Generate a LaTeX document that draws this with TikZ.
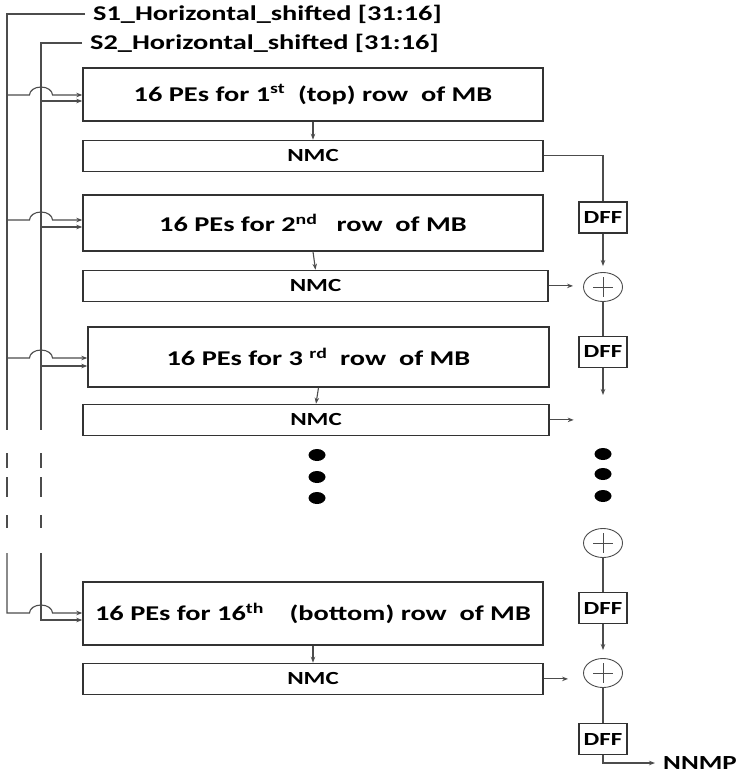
\documentclass[tikz,border=0pt]{standalone}
\usepackage{fontspec}
\setmainfont{Carlito}[FakeStretch=1.35]
\usetikzlibrary{shapes.geometric, arrows.meta, positioning, calc}

\begin{document}
\begin{tikzpicture}[x=1pt, y=-1pt, font=\bfseries,
          pebox/.style={rectangle, draw=black!80, line width=1.4pt, minimum width=460pt, minimum height=55pt, inner sep=0pt, font=\bfseries\fontsize{21}{24}\selectfont},
          nmcbox/.style={rectangle, draw=black!80, line width=1.4pt, minimum width=460pt, minimum height=31pt, inner sep=0pt, font=\bfseries\fontsize{18.5}{20}\selectfont},
          dffbox/.style={rectangle, draw=black!80, line width=1.4pt, minimum width=48pt, minimum height=31pt, inner sep=0pt, font=\bfseries\fontsize{18.5}{20}\selectfont},
          adder/.style={ellipse, draw=black!70, line width=0.9pt, minimum width=39pt, minimum height=29pt, inner sep=0pt,
            path picture={\draw[line width=0.9pt, black!70] ($(path picture bounding box.center)+(-10,0)$) -- +(20,0)
              ($(path picture bounding box.center)+(0,-10)$) -- +(0,20);}},
          buslabel/.style={anchor=west, inner xsep=8pt, inner ysep=0pt, font=\bfseries\fontsize{21}{24}\selectfont},
          wire/.style={line width=1.1pt, color=black!70},
          arrow/.style={-{Stealth[length=6pt, width=4.5pt]}, line width=1.1pt, color=black!70}]

        \useasboundingbox (0,0) rectangle (750,775);

        \node [pebox, minimum height=53pt] (pe1) at (313,94.5) {16 PEs for 1\textsuperscript{st}\ \ (top) row\ \ of MB};
        \node [nmcbox, below=18pt of pe1] (nmc1) {NMC};
        \node [pebox, minimum height=56pt] (pe2) at (313,223) {16 PEs for 2\textsuperscript{nd}\ \ \ row\ \ of MB};
        \node [nmcbox, below=18pt of pe2, minimum width=465pt, xshift=2.5pt] (nmc2) {NMC};
        \node [pebox, minimum height=60pt, minimum width=461pt] (pe3) at (318.5,357) {16 PEs for 3\ \textsuperscript{rd}\ \ row\ \ of MB};
        \node [nmcbox, below=16pt of pe3, minimum width=466pt, xshift=-2.5pt] (nmc3) {NMC};
        \node [pebox, minimum height=63pt] (pe16) at (313,613.5) {16 PEs for 16\textsuperscript{th}\ \ \ \ (bottom) row\ \ of MB};
        \node [nmcbox, below=17pt of pe16] (nmc16) {NMC};

        \node [dffbox] (dff1) at (603,217.5) {DFF};
        \node [adder] (add1) at (603,287) {};
        \node [dffbox] (dff2) at (603,352) {DFF};
        \node [adder] (add2) at (603,543) {};
        \node [dffbox] (dff3) at (603,608) {DFF};
        \node [adder] (add3) at (603,673) {};
        \node [dffbox] (dff4) at (603,739) {DFF};
        \node [buslabel, font=\bfseries\fontsize{20}{24}\selectfont] (nnmp) at (655,763) {NNMP};

        \node [buslabel] (s1lbl) at (85,14) {S1\_Horizontal\_shifted [31:16]};
        \node [buslabel] (s2lbl) at (82,43) {S2\_Horizontal\_shifted [31:16]};
        \coordinate (s1) at (7,14);
        \coordinate (s2) at (41,43);
        \coordinate (free1) at (603,395);
        \coordinate (free2) at ($(nmc3.east)+(24,0)$);

        \draw [wire] (s1lbl.west) -- (s1) -- (s1 |- 0,430);
        \draw [wire] (s2lbl.west) -- (s2) -- (s2 |- 0,430);
        \foreach \x in {7,41}
          \draw [wire, dash pattern=on 0pt off 23pt on 15pt off 9pt on 20pt off 18pt on 13pt off 25pt] (\x,430) -- (\x,553);

        \foreach \pe/\ya/\yb in {pe1/95/101, pe2/220/227, pe3/358/366} {
          \draw [arrow] (7,\ya) -- (29.5,\ya) arc[start angle=180, end angle=0, x radius=11.5pt, y radius=8pt] -- (\pe.west |- 0,\ya);
          \draw [arrow] (41,\yb) -- (\pe.west |- 0,\yb);
        }
        \draw [arrow] (7,553) -- (7,613) -- (29.5,613) arc[start angle=180, end angle=0, x radius=11.5pt, y radius=8pt] -- (pe16.west |- 0,613);
        \draw [arrow] (41,553) -- (41,620) -- (pe16.west |- 0,620);

        \foreach \n in {1,2,3,16}
          \draw [arrow] (pe\n.south) -- (nmc\n.north);

        \draw [wire] (nmc1.east) -| (dff1.north);
        \draw [arrow, shorten >=6pt] (dff1.south) -- (add1.north);
        \draw [wire] (add1.south) -- (dff2.north);
        \draw [arrow] (dff2.south) -- (free1);
        \draw [arrow, shorten >=10pt] (nmc2.east) -- (nmc2.east -| add1.west);
        \draw [arrow] (nmc3.east) -- (free2);
        \draw [wire] (add2.south) -- (dff3.north);
        \draw [arrow, shorten >=8pt] (dff3.south) -- (add3.north);
        \draw [arrow, shorten >=15pt] (nmc16.east) -- (nmc16.east -| add3.west);
        \draw [wire] (add3.south) -- (dff4.north);
        \draw [arrow] (dff4.south) |- (nnmp.west);

        \foreach \y in {455,477,498}
          \fill (317,\y) ellipse[x radius=8.5pt, y radius=6pt];
        \foreach \y in {454,474,496}
          \fill (603,\y) ellipse[x radius=8.5pt, y radius=6pt];
      \end{tikzpicture}
\end{document}
